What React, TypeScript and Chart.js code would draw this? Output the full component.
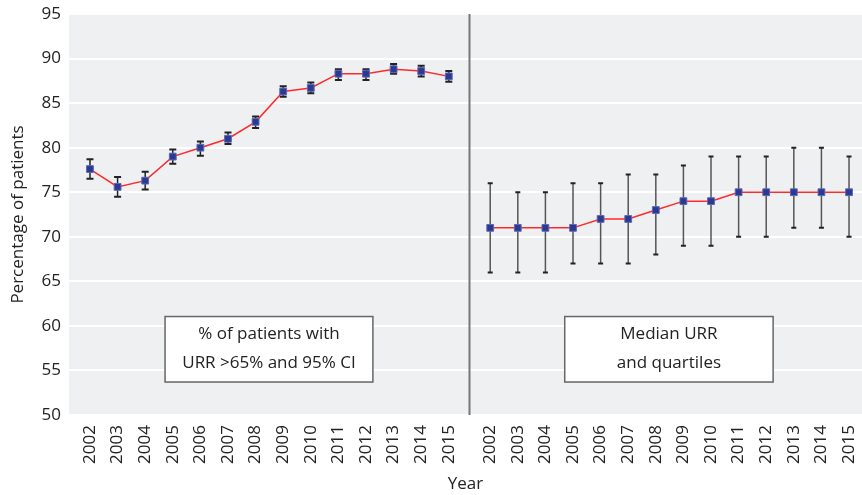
import React, { useEffect, useRef } from "react";
import { Chart, registerables } from "chart.js";

Chart.register(...registerables);

const years = ["2002", "2003", "2004", "2005", "2006", "2007", "2008", "2009", "2010", "2011", "2012", "2013", "2014", "2015"];

// Left panel: % of patients with URR > 65% and 95% CI
const pctValues = [77.6, 75.6, 76.3, 79.0, 80.0, 81.0, 82.9, 86.3, 86.7, 88.3, 88.3, 88.8, 88.6, 88.0];
const pctLow = [76.5, 74.5, 75.3, 78.2, 79.1, 80.4, 82.2, 85.7, 86.1, 87.6, 87.6, 88.3, 88.0, 87.4];
const pctHigh = [78.7, 76.7, 77.3, 79.8, 80.7, 81.7, 83.5, 86.9, 87.3, 88.8, 88.8, 89.4, 89.2, 88.6];

// Right panel: median URR and quartiles
const medianValues = [71, 71, 71, 71, 72, 72, 73, 74, 74, 75, 75, 75, 75, 75];
const q1Values = [66, 66, 66, 67, 67, 67, 68, 69, 69, 70, 70, 71, 71, 70];
const q3Values = [76, 75, 75, 76, 76, 77, 77, 78, 79, 79, 79, 80, 80, 79];

const yTicks = [50, 55, 60, 65, 70, 75, 80, 85, 90, 95];

const leftX = years.map((_, i) => i);
const rightX = years.map((_, i) => 14.5 + i);
const allX = [...leftX, ...rightX];
const allLabels = [...years, ...years];

const FONT = "'Open Sans', 'Noto Sans', sans-serif";

const decorPlugin = {
  id: "decor",
  beforeDraw(chart: any) {
    const { ctx, chartArea } = chart;
    ctx.save();
    ctx.fillStyle = "#eff0f2";
    ctx.fillRect(chartArea.left, chartArea.top, chartArea.right - chartArea.left, chartArea.bottom - chartArea.top);
    ctx.restore();
  },
  beforeDatasetsDraw(chart: any) {
    const { ctx, chartArea, scales } = chart;
    const xs = scales.x;
    const ys = scales.y;
    ctx.save();
    const dx = xs.getPixelForValue(13.75);
    ctx.strokeStyle = "#777";
    ctx.lineWidth = 2;
    ctx.beginPath();
    ctx.moveTo(dx, chartArea.top);
    ctx.lineTo(dx, chartArea.bottom);
    ctx.stroke();

    const drawBars = (xv: number[], lo: number[], hi: number[], color: string, lw: number, capW: number) => {
      for (let i = 0; i < xv.length; i++) {
        const px = xs.getPixelForValue(xv[i]);
        const pl = ys.getPixelForValue(lo[i]);
        const ph = ys.getPixelForValue(hi[i]);
        ctx.strokeStyle = color;
        ctx.lineWidth = lw;
        ctx.beginPath();
        ctx.moveTo(px, pl);
        ctx.lineTo(px, ph);
        ctx.stroke();
        ctx.strokeStyle = "#222";
        ctx.lineWidth = 2;
        ctx.beginPath();
        ctx.moveTo(px - capW / 2, pl);
        ctx.lineTo(px + capW / 2, pl);
        ctx.moveTo(px - capW / 2, ph);
        ctx.lineTo(px + capW / 2, ph);
        ctx.stroke();
      }
    };
    drawBars(leftX, pctLow, pctHigh, "#222", 1.5, 7);
    drawBars(rightX, q1Values, q3Values, "#555", 1.5, 5);
    ctx.restore();
  },
  afterDraw(chart: any) {
    const { ctx, scales } = chart;
    const xs = scales.x;
    const ys = scales.y;
    const boxes = [
      { x0: 2.72, x1: 10.25, y0: 61.05, y1: 53.7, lines: ["% of patients with", "URR >65% and 95% CI"] },
      { x0: 17.2, x1: 24.75, y0: 61.05, y1: 53.7, lines: ["Median URR", "and quartiles"] },
    ];
    ctx.save();
    for (const b of boxes) {
      const l = xs.getPixelForValue(b.x0);
      const r = xs.getPixelForValue(b.x1);
      const t = ys.getPixelForValue(b.y0);
      const bt = ys.getPixelForValue(b.y1);
      ctx.fillStyle = "#ffffff";
      ctx.fillRect(l, t, r - l, bt - t);
      ctx.strokeStyle = "#666";
      ctx.lineWidth = 1.5;
      ctx.strokeRect(l, t, r - l, bt - t);
      ctx.fillStyle = "#222";
      ctx.font = `17px ${FONT}`;
      ctx.textAlign = "center";
      ctx.textBaseline = "middle";
      const cx = (l + r) / 2;
      ctx.fillText(b.lines[0], cx, t + 18);
      ctx.fillText(b.lines[1], cx, t + 47);
    }
    ctx.restore();
  },
};

export default function App() {
  const ref = useRef<HTMLCanvasElement | null>(null);
  useEffect(() => {
    if (!ref.current) return;
    const chart = new Chart(ref.current, {
      type: "line",
      data: {
        datasets: [
          {
            data: leftX.map((x, i) => ({ x, y: pctValues[i] })),
            borderColor: "#ff2a2a",
            borderWidth: 1.5,
            pointStyle: "rect",
            pointRadius: 4.8,
            pointBackgroundColor: "#2b3990",
            pointBorderColor: "#5a68b8",
            pointBorderWidth: 1,
            tension: 0,
          },
          {
            data: rightX.map((x, i) => ({ x, y: medianValues[i] })),
            borderColor: "#ff2a2a",
            borderWidth: 1.5,
            pointStyle: "rect",
            pointRadius: 4.8,
            pointBackgroundColor: "#2b3990",
            pointBorderColor: "#5a68b8",
            pointBorderWidth: 1,
            tension: 0,
          },
        ],
      },
      options: {
        responsive: false,
        animation: false,
        layout: { autoPadding: false, padding: { top: 14, right: 0, left: 0, bottom: -2 } },
        plugins: { legend: { display: false }, tooltip: { enabled: false } },
        scales: {
          x: {
            type: "linear",
            min: -0.76,
            max: 27.97,
            grid: { display: false, drawTicks: false },
            border: { display: false },
            afterBuildTicks: (scale: any) => {
              scale.ticks = allX.map((v) => ({ value: v }));
            },
            afterFit: (scale: any) => {
              scale.height = 82;
              scale.paddingLeft = 0;
              scale.paddingRight = 0;
              scale.paddingTop = 0;
              scale.paddingBottom = 0;
            },
            ticks: {
              autoSkip: false,
              minRotation: 90,
              maxRotation: 90,
              padding: 10,
              color: "#222",
              font: { family: FONT, size: 17 },
              callback: (_v: any, i: number) => allLabels[i],
            },
            title: {
              display: true,
              text: "Year",
              color: "#222",
              font: { family: FONT, size: 17 },
              padding: { top: 0, bottom: 3 },
            },
          },
          y: {
            min: 50,
            max: 95,
            afterBuildTicks: (scale: any) => {
              scale.ticks = yTicks.map((v) => ({ value: v }));
            },
            afterFit: (scale: any) => {
              scale.width = 69;
              scale.paddingLeft = 0;
              scale.paddingRight = 0;
              scale.paddingTop = 0;
              scale.paddingBottom = 0;
            },
            grid: { color: "#ffffff", lineWidth: 2, drawTicks: false },
            border: { display: false },
            ticks: {
              padding: 8,
              color: "#222",
              font: { family: FONT, size: 17 },
            },
            title: {
              display: true,
              text: "Percentage of patients",
              color: "#222",
              font: { family: FONT, size: 17 },
              padding: { top: 8, bottom: 0 },
            },
          },
        },
      },
      plugins: [decorPlugin],
    } as any);
    return () => chart.destroy();
  }, []);
  return (
    <div style={{ position: "absolute", left: 0, top: 0, width: 862, height: 495 }}>
      <canvas ref={ref} width={862} height={495} style={{ display: "block" }} />
    </div>
  );
}
